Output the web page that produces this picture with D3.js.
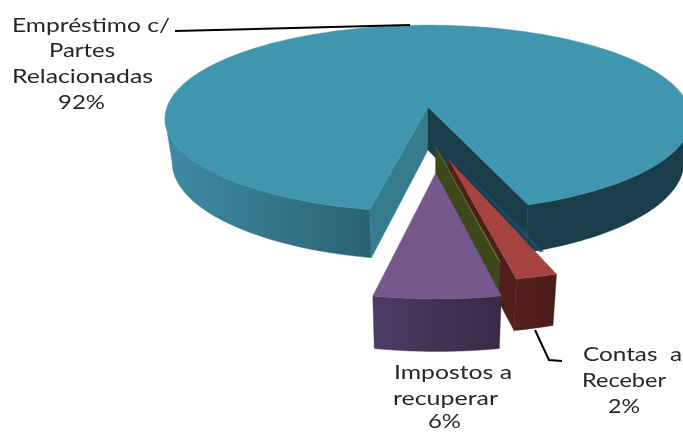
<!DOCTYPE html>
<html>
<head>
<meta charset="utf-8">
<script src="https://cdn.jsdelivr.net/npm/d3@7"></script>
<style>
  html, body { margin: 0; padding: 0; background: #fff; overflow: hidden; }
  text { font-family: Lato, sans-serif; font-size: 20px; fill: #262626; }
</style>
</head>
<body>
<svg id="chart"></svg>
<script>
// data, in pie order (clockwise from the main slice)
const categories = ["Empréstimo c/ Partes Relacionadas", "Outros", "Contas a Receber", "Outros 2", "Impostos a recuperar"];
const values = [91.35, 0.2, 2.1, 0.05, 6.3];
const percentLabels = ["92%", null, "2%", null, "6%"];

const topColors = ["#4095af", "#1f4a78", "#a5443f", "#6f7f30", "#74588e"];
const sideColors = ["#367b8e", "#1f4a78", "#4f1f1b", "#3c471d", "#3f2d4d"];

// how far each slice is pulled out, in pie plane units
const explodeU = [0, 0.031, 0.075, 0.028, 0.027];
const explodeV = [0, 0.373, 0.54, 0.41, 0.66];

const width = 683, height = 432;
const cx = 428, cy = 107;
const radiusX = 261, radiusY = 92, persp = 0.123;
const depth = 43, bottomScaleX = 0.973, bottomScaleY = 1.05;
const startDeg = 191.3;

const svg = d3.select("#chart").attr("width", width).attr("height", height);

// gradients for the curved walls
const defs = svg.append("defs");
function addGradient(id, x1, x2, c1, c2) {
  const g = defs.append("linearGradient").attr("id", id)
    .attr("gradientUnits", "userSpaceOnUse")
    .attr("x1", x1).attr("x2", x2).attr("y1", 0).attr("y2", 0);
  g.append("stop").attr("offset", 0).attr("stop-color", c1);
  g.append("stop").attr("offset", 1).attr("stop-color", c2);
}
addGradient("mainWall", 172, 370, "#3c8aa3", "#2b6272");
addGradient("purpleWall", 373, 501, "#4e3b66", "#392945");
addGradient("redWall", 514, 557, "#561f1c", "#4b1c19");

// the reference text is slightly soft
defs.append("filter").attr("id", "soft")
  .append("feGaussianBlur").attr("stdDeviation", 0.3);

const pie = d3.pie().sort(null).startAngle(startDeg * Math.PI / 180)
  .endAngle((startDeg + 360) * Math.PI / 180);
const slices = pie(values);

// plane point (angle a, radius r, slice i) to screen, with perspective
function project(a, r, i, bottom) {
  const u = explodeU[i] + r * Math.sin(a);
  const v = explodeV[i] - r * Math.cos(a);
  const w = 1 - persp * v;
  const x = radiusX * u / w;
  const y = radiusY * v / w;
  return bottom
    ? [cx + x * bottomScaleX, cy + y * bottomScaleY + depth]
    : [cx + x, cy + y];
}

const line = d3.line();
function arcPoints(a0, a1, i, bottom) {
  const n = Math.max(2, Math.ceil(Math.abs(a1 - a0) * 40));
  return d3.range(n + 1).map(k => project(a0 + (a1 - a0) * k / n, 1, i, bottom));
}
function drawPoly(pts, fill) {
  return svg.append("path").attr("d", line(pts) + "Z").attr("fill", fill)
    .attr("stroke", fill).attr("stroke-width", 0.4);
}
function drawTop(i, fill) {
  const s = slices[i];
  drawPoly([project(0, 0, i, false)].concat(arcPoints(s.startAngle, s.endAngle, i, false)), fill);
}
function drawOuterWall(a0, a1, i, fill) {
  drawPoly(arcPoints(a0, a1, i, false).concat(arcPoints(a0, a1, i, true).reverse()), fill);
}
function drawRadialWall(a, i, fill) {
  drawPoly([project(0, 0, i, false), project(a, 1, i, false), project(a, 1, i, true), project(0, 0, i, true)], fill);
}

// main slice: walls first, then its top
const main = slices[0];
const rad = Math.PI / 180;
drawOuterWall(main.startAngle, 263 * rad, 0, "url(#mainWall)");
drawOuterWall(457 * rad, main.endAngle, 0, "#1a3d4a");
drawRadialWall(main.startAngle, 0, sideColors[0]);
drawRadialWall(main.endAngle, 0, "#1a3d4a");
drawTop(0, topColors[0]);

// thin dark blue slice
drawTop(1, topColors[1]);

// red slice
const red = slices[2];
drawRadialWall(red.endAngle, 2, sideColors[2]);
drawOuterWall(red.startAngle, red.endAngle, 2, "url(#redWall)");
drawTop(2, topColors[2]);

// olive slice only shows its inner wall
const olive = slices[3];
drawRadialWall(olive.startAngle, 3, sideColors[3]);
drawTop(3, topColors[3]);

// purple slice
const purple = slices[4];
drawOuterWall(purple.startAngle, purple.endAngle, 4, "url(#purpleWall)");
drawTop(4, topColors[4]);

// leader lines
const leaders = [
  [[175, 31], [410, 25]],
  [[535, 330], [549, 360], [562, 361]]
];
leaders.forEach(l => {
  svg.append("path").attr("d", line(l)).attr("fill", "none")
    .attr("stroke", "#000").attr("stroke-width", 2);
});

// labels, one row per text line, stretched to the reference widths
const labelRows = [
  { text: "Empréstimo c/", x: 12, y: 32, w: 158 },
  { text: "Partes", x: 49, y: 57, w: 66 },
  { text: "Relacionadas", x: 12, y: 83, w: 141 },
  { text: percentLabels[0], x: 58, y: 109, w: 47 },
  { text: "Contas\u00a0\u00a0a", x: 583, y: 361, w: 99 },
  { text: "Receber", x: 582, y: 387, w: 84 },
  { text: percentLabels[2], x: 608, y: 413, w: 32 },
  { text: "Impostos a", x: 394, y: 379, w: 118 },
  { text: "recuperar", x: 393, y: 405, w: 105 },
  { text: percentLabels[4], x: 428, y: 428, w: 33 }
];
svg.selectAll("text.label").data(labelRows).enter().append("text")
  .attr("class", "label")
  .attr("x", d => d.x).attr("y", d => d.y)
  .attr("textLength", d => d.w)
  .attr("lengthAdjust", "spacingAndGlyphs")
  .attr("filter", "url(#soft)")
  .text(d => d.text);
</script>
</body>
</html>
